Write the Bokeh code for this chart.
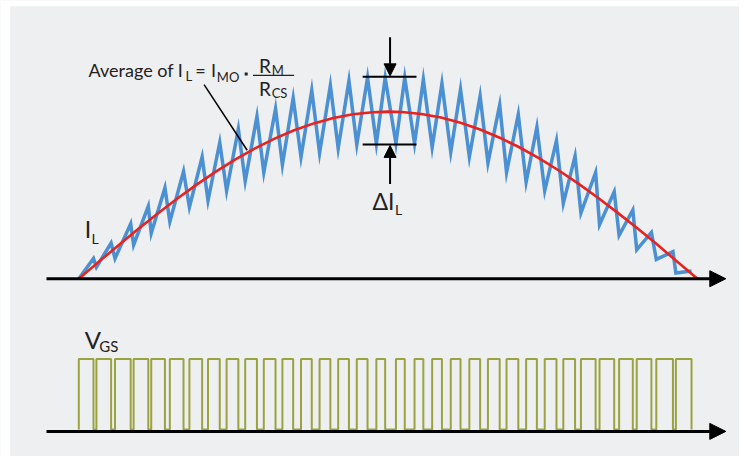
from bokeh.plotting import figure
from bokeh.models import Range1d, Arrow, NormalHead
from bokeh.core.properties import value
from bokeh.embed import file_html
from bokeh.resources import INLINE

# ---- data (x: time in px, y: level in px from top) ----
# switching instants: on_t = switch turns on (current valley), off_t = switch turns off (current peak)
on_t = [80, 98, 117, 136, 154, 173, 193, 212, 231, 250, 269, 288, 307, 326, 345, 364, 384,
        404, 423, 441, 460, 479, 498, 517, 537, 556, 575, 593, 612, 632, 650, 670, 690]
on_i = [288, 276, 267, 253, 241, 229, 214, 207, 197, 187, 178, 170, 162, 158, 153, 149, 148,
        148, 148, 152, 157, 162, 168, 178, 188, 197, 210, 220, 232, 243, 258, 268, 282]
off_t = [95, 113, 133, 151, 168, 187, 206, 224, 243, 262, 281, 299, 318, 337, 356, 375, 393,
         413, 432, 451, 470, 490, 510, 529, 548, 568, 587, 608, 627, 646, 665, 687, 706]
off_i = [267, 251, 231, 213, 194, 177, 162, 147, 133, 120, 112, 101, 93, 88, 83, 80, 80,
         80, 82, 86, 92, 99, 108, 118, 131, 145, 161, 178, 198, 217, 240, 260, 280]

# average inductor current (red half sine)
avg_x = [80, 100, 120, 140, 160, 180, 200, 220, 240, 260, 280, 300, 320, 340, 360, 380, 396,
         410, 430, 450, 470, 490, 510, 530, 550, 570, 590, 610, 630, 650, 670, 690, 712]
avg_y = [288, 270.8, 253.8, 237.1, 221.0, 205.5, 190.8, 177.1, 164.5, 153.0, 143.0, 134.3, 127.2,
         121.7, 117.8, 115.6, 115.0, 115.4, 117.5, 121.2, 126.6, 133.5, 142.0, 151.9, 163.2,
         175.7, 189.3, 203.9, 219.3, 235.3, 251.9, 269.1, 288]

# gate drive levels
vgs_high = 371
vgs_low = 444

# axes (baseline y, start x, arrow tip x)
axis_y = [288, 446]
axis_x0 = 47
axis_x1 = 741

BG = "#eeeff0"
BLUE = "#4a90d2"
RED = "#e8231f"
OLIVE = "#9aa340"
INK = "#222222"
FONT = value("Lato")

p = figure(width=739, height=456, x_range=Range1d(0, 755), y_range=Range1d(472, 0),
           output_backend="svg", toolbar_location=None, min_border=0,
           x_axis_type=None, y_axis_type=None)
p.grid.visible = False
p.outline_line_color = None
p.background_fill_color = BG
p.border_fill_color = "white"

# white margins of the original panel
p.quad(left=[0, 0], right=[10, 755], top=[0, 0], bottom=[472, 6],
       fill_color="white", line_color=None)

# inductor current with ripple
bx, by = [], []
for k in range(len(on_t)):
    bx += [on_t[k], off_t[k]]
    by += [on_i[k], off_i[k]]
p.line(bx, by, line_color=BLUE, line_width=3.5, line_join="miter")

# average current
p.line(avg_x, avg_y, line_color=RED, line_width=2.6)

# gate drive pulses
gx, gy = [], []
for k in range(len(on_t)):
    gx += [on_t[k], on_t[k], off_t[k], off_t[k]]
    gy += [vgs_low, vgs_high, vgs_high, vgs_low]
p.line(gx, gy, line_color=OLIVE, line_width=2.0)

# axes with arrow heads
for ay in axis_y:
    p.add_layout(Arrow(end=NormalHead(size=16, fill_color="black", line_color="black"),
                       x_start=axis_x0, y_start=ay, x_end=axis_x1, y_end=ay,
                       line_color="black", line_width=3))

# delta I bracket
p.segment(x0=[370, 370], y0=[79, 149], x1=[425, 425], y1=[79, 149],
          line_color="black", line_width=2)
p.add_layout(Arrow(end=NormalHead(size=12, fill_color="black", line_color="black"),
                   x_start=398, y_start=38, x_end=398, y_end=78,
                   line_color="black", line_width=2))
p.add_layout(Arrow(end=NormalHead(size=12, fill_color="black", line_color="black"),
                   x_start=398, y_start=190, x_end=398, y_end=150,
                   line_color="black", line_width=2))

# callout line
p.line([208, 252], [87, 155], line_color="black", line_width=1.5)


def txt(x, base, s, size):
    # place text by its baseline (compensating the renderer's baseline offset)
    p.text(x=[x], y=[base - 0.4 * size], text=[s], text_font=FONT,
           text_font_size=f"{size}px", text_color=INK,
           text_baseline="alphabetic", text_align="left")


# formula
txt(90, 79, "Average of I", 18)
txt(189, 83, "L", 13)
txt(199, 79, "=", 18)
txt(215, 79, "I", 18)
txt(221, 84, "MO", 13)
p.scatter([251], [76], marker="square", size=3, fill_color=INK, line_color=None)
txt(264, 75, "R", 19)
txt(277, 77, "M", 13)
p.segment(x0=[258], y0=[77.5], x1=[300], y1=[77.5], line_color=INK, line_width=1.2)
txt(264, 99, "R", 19)
txt(277, 101, "CS", 13)

# other labels
txt(86, 246, "I", 23)
txt(93, 252, "L", 14)
txt(380, 217, "ΔI", 23)
txt(403, 222, "L", 14)
txt(86, 361, "V", 24)
txt(101, 364, "GS", 15)

open("out.html", "w").write(file_html(p, INLINE))
